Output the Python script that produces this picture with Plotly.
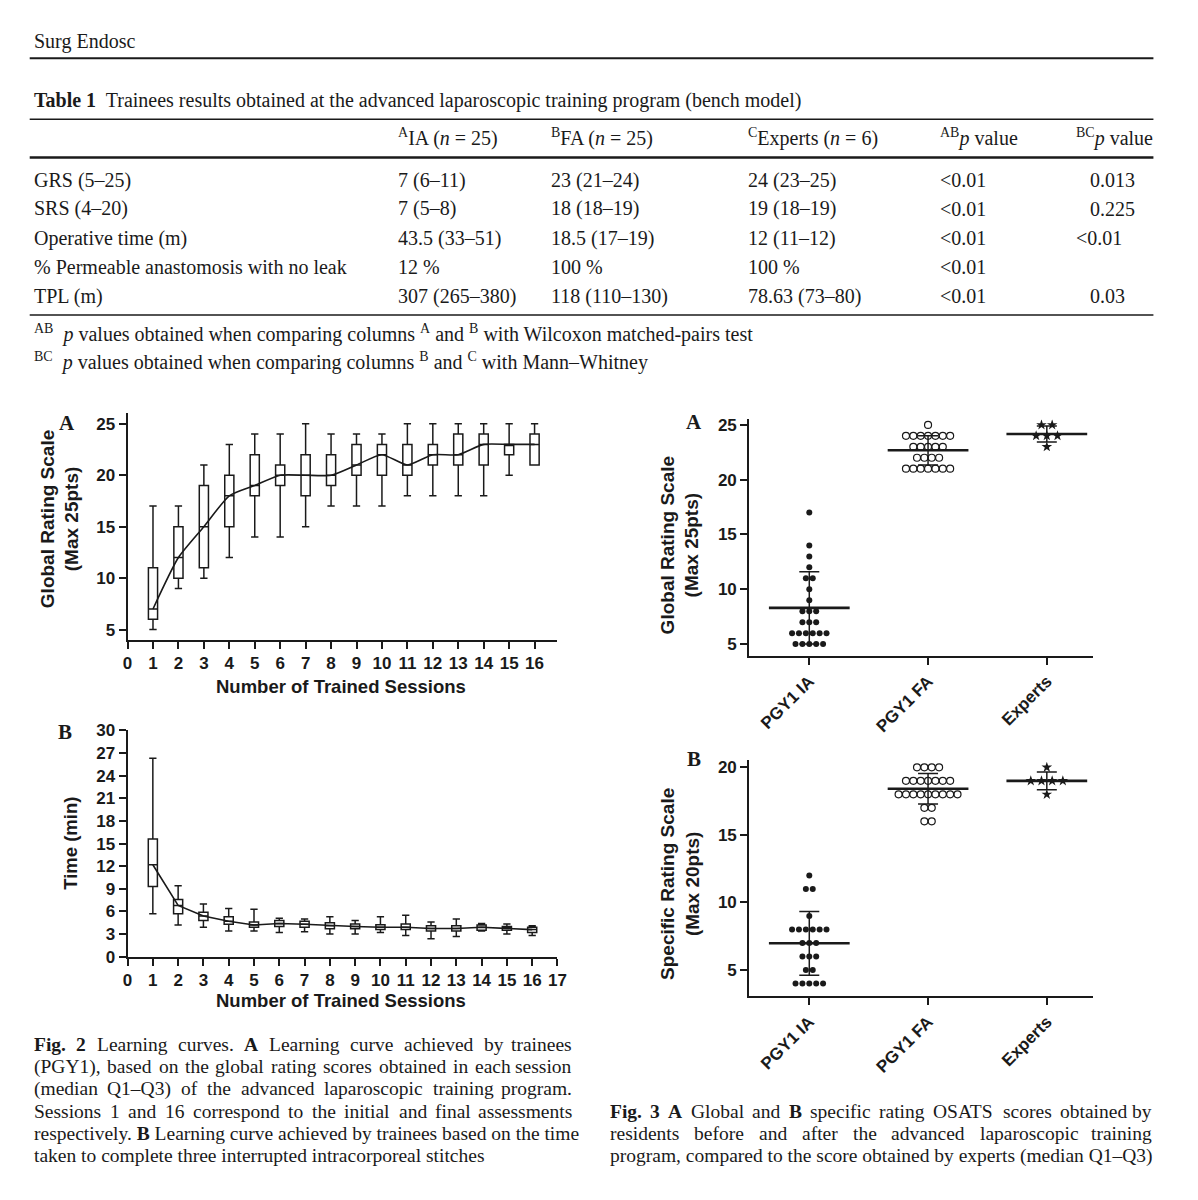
import plotly.graph_objects as go

W, H = 1198, 1200
INK = "#1a1a1a"
SANS = "Liberation Sans, Arial, sans-serif"
SERIF = "Liberation Serif, Times New Roman, serif"

# ---- Table 1 ----
table_cols = ["<sup>A</sup>IA (<i>n</i> = 25)", "<sup>B</sup>FA (<i>n</i> = 25)",
              "<sup>C</sup>Experts (<i>n</i> = 6)", "<sup>AB</sup><i>p</i> value",
              "<sup>BC</sup><i>p</i> value"]
row_labels = ["GRS (5–25)", "SRS (4–20)", "Operative time (m)",
              "% Permeable anastomosis with no leak", "TPL (m)"]
ia_vals = ["7 (6–11)", "7 (5–8)", "43.5 (33–51)", "12 %", "307 (265–380)"]
fa_vals = ["23 (21–24)", "18 (18–19)", "18.5 (17–19)", "100 %", "118 (110–130)"]
exp_vals = ["24 (23–25)", "19 (18–19)", "12 (11–12)", "100 %", "78.63 (73–80)"]
p_ab = ["&lt;0.01", "&lt;0.01", "&lt;0.01", "&lt;0.01", "&lt;0.01"]
p_bc = ["0.013", "0.225", "&lt;0.01", "", "0.03"]

# ---- Fig 2A: global rating per session (box: whisker low, Q1, median, Q3, whisker high) ----
sessions = list(range(1, 17))
grs_low = [5, 9, 10, 12, 14, 14, 15, 17, 17, 17, 18, 18, 18, 18, 20, 21]
grs_q1 = [6, 10, 11, 15, 18, 19, 18, 19, 20, 20, 20, 21, 21, 21, 22, 21]
grs_med = [7, 12, 15, 18, 19, 20, 20, 20, 21, 22, 21, 22, 22, 23, 23, 23]
grs_q3 = [11, 15, 19, 20, 22, 21, 22, 22, 23, 23, 23, 23, 24, 24, 23, 24]
grs_high = [17, 17, 21, 23, 24, 24, 25, 24, 24, 24, 25, 25, 25, 25, 25, 25]

# ---- Fig 2B: time per session (min) ----
time_low = [5.7, 4.2, 3.9, 3.4, 3.4, 3.2, 3.3, 3.0, 3.0, 3.2, 2.8, 2.4, 2.7, 3.4, 3.0, 2.8]
time_q1 = [9.3, 5.7, 4.8, 4.3, 3.9, 4.0, 3.9, 3.7, 3.7, 3.6, 3.6, 3.4, 3.4, 3.5, 3.5, 3.2]
time_med = [12.2, 6.8, 5.4, 4.7, 4.2, 4.4, 4.3, 4.1, 4.0, 3.9, 3.9, 3.75, 3.75, 3.9, 3.8, 3.6]
time_q3 = [15.6, 7.6, 5.9, 5.3, 4.6, 4.8, 4.7, 4.5, 4.35, 4.25, 4.35, 4.1, 4.1, 4.2, 4.0, 3.9]
time_high = [26.3, 9.4, 7.0, 6.4, 6.3, 5.1, 5.0, 5.3, 4.8, 5.3, 5.5, 4.6, 5.0, 4.4, 4.35, 4.1]

# ---- Fig 3: individual scores, mean and SD ----
groups = ["PGY1 IA", "PGY1 FA", "Experts"]
grs_ia = [17, 14, 13, 12, 11, 11, 10, 9, 8, 8, 8, 7, 7, 7,
          6, 6, 6, 6, 6, 6, 5, 5, 5, 5, 5]
grs_fa = [25, 24, 24, 24, 24, 24, 24, 24, 23, 23, 23, 23, 23,
          22, 22, 22, 22, 21, 21, 21, 21, 21, 21, 21]
grs_exp = [25, 25, 24, 24, 24, 23]
grs_mean = [8.3, 22.68, 24.17]
grs_sd = [3.3, 1.33, 0.73]

srs_ia = [12, 11, 11, 9, 8, 8, 8, 8, 8, 8, 7, 7, 7, 6, 6, 6, 5, 5, 4, 4, 4, 4, 4]
srs_fa = [20, 20, 20, 20, 19, 19, 19, 19, 19, 19, 19,
          18, 18, 18, 18, 18, 18, 18, 18, 18, 17, 17, 16, 16]
srs_exp = [20, 19, 19, 19, 19, 18]
srs_mean = [6.97, 18.42, 19.0]
srs_sd = [2.36, 1.13, 0.65]

fig2_caption = [
    "<b>Fig.</b> <b>2</b> Learning curves. <b>A</b> Learning curve achieved by trainees",
    "(PGY1), based on the global rating scores obtained in each session",
    "(median Q1–Q3) of the advanced laparoscopic training program.",
    "Sessions 1 and 16 correspond to the initial and final assessments",
    "respectively. <b>B</b> Learning curve achieved by trainees based on the time",
    "taken to complete three interrupted intracorporeal stitches",
]
fig3_caption = [
    "<b>Fig.</b> <b>3</b>  <b>A</b> Global and <b>B</b> specific rating OSATS scores obtained by",
    "residents before and after the advanced laparoscopic training",
    "program, compared to the score obtained by experts (median Q1–Q3)",
]

# approximate Times advance widths (1/1000 em), used only to justify caption lines
TIMES_W = {" ": 250, ".": 250, ",": 250, ":": 278, ";": 278, "(": 333, ")": 333, "-": 333,
           "–": 500, "%": 833, "f": 333, "r": 333, "i": 278, "j": 278, "l": 278, "t": 278,
           "s": 389, "a": 444, "c": 444, "e": 444, "z": 444, "m": 778, "w": 722,
           "A": 722, "B": 667, "C": 667, "D": 722, "E": 611, "F": 556, "G": 722, "H": 722,
           "I": 333, "K": 722, "L": 611, "M": 889, "N": 722, "O": 722, "P": 556, "Q": 722,
           "R": 667, "S": 556, "T": 611, "U": 722, "V": 722, "W": 944, "Y": 722}


def px(x):
    return x / W


def py(y):
    return 1 - y / H


def swarm(values, center, step):
    xs, ys = [], []
    for v in sorted(set(values), reverse=True):
        k = values.count(v)
        for i in range(k):
            xs.append(center + (i - (k - 1) / 2) * step)
            ys.append(v)
    return xs, ys


def axis(**kw):
    base = dict(showline=True, linecolor=INK, linewidth=2, ticks="outside", ticklen=7,
                tickwidth=2, tickcolor=INK, showgrid=False, zeroline=False,
                tickfont=dict(family=SANS, size=17, color=INK, weight="bold"))
    base.update(kw)
    return base


fig = go.Figure()

# Fig 2A boxes + median curve
fig.add_trace(go.Box(x=sessions, q1=grs_q1, median=grs_med, q3=grs_q3,
                     lowerfence=grs_low, upperfence=grs_high, width=0.36, whiskerwidth=0.8,
                     fillcolor="white", line=dict(color=INK, width=1.5), boxpoints=False,
                     xaxis="x", yaxis="y", showlegend=False, hoverinfo="skip"))
fig.add_trace(go.Scatter(x=sessions, y=grs_med, mode="lines",
                         line=dict(color=INK, width=1.6, shape="spline", smoothing=0.6),
                         xaxis="x", yaxis="y", showlegend=False, hoverinfo="skip"))

# Fig 2B
fig.add_trace(go.Box(x=sessions, q1=time_q1, median=time_med, q3=time_q3,
                     lowerfence=time_low, upperfence=time_high, width=0.36, whiskerwidth=0.8,
                     fillcolor="white", line=dict(color=INK, width=1.5), boxpoints=False,
                     xaxis="x2", yaxis="y2", showlegend=False, hoverinfo="skip"))
fig.add_trace(go.Scatter(x=sessions, y=time_med, mode="lines",
                         line=dict(color=INK, width=1.6),
                         xaxis="x2", yaxis="y2", showlegend=False, hoverinfo="skip"))

# Fig 3A / 3B dot plots with mean +/- SD
marker_styles = [
    dict(symbol="circle", size=6, color=INK),
    dict(symbol="circle-open", size=7, color=INK, line=dict(width=1.2)),
    dict(symbol="star", size=8, color=INK),
]
steps = [0.058, 0.062, 0.09]
for (xa, ya, sets, means, sds) in [("x3", "y3", [grs_ia, grs_fa, grs_exp], grs_mean, grs_sd),
                                   ("x4", "y4", [srs_ia, srs_fa, srs_exp], srs_mean, srs_sd)]:
    for i, vals in enumerate(sets):
        xs, ys = swarm(vals, i, steps[i])
        fig.add_trace(go.Scatter(x=xs, y=ys, mode="markers", marker=marker_styles[i],
                                 xaxis=xa, yaxis=ya, showlegend=False, hoverinfo="skip"))
    fig.add_trace(go.Scatter(
        x=list(range(len(groups))), y=means, mode="markers",
        marker=dict(size=1, color="rgba(0,0,0,0)"),
        error_x=dict(type="data", array=[0.34] * 3, width=0, thickness=2.6, color=INK),
        error_y=dict(type="data", array=sds, width=10, thickness=1.5, color=INK),
        xaxis=xa, yaxis=ya, showlegend=False, hoverinfo="skip"))

fig.update_layout(
    width=W, height=H, margin=dict(l=0, r=0, t=0, b=0),
    paper_bgcolor="white", plot_bgcolor="white", hovermode=False,
    xaxis=axis(domain=[px(124), px(559)], range=[0, 16.9], tickmode="linear", tick0=0, dtick=1,
               anchor="y"),
    yaxis=axis(domain=[py(641), py(410)], range=[4, 26.1], tickvals=[5, 10, 15, 20, 25],
               anchor="x"),
    xaxis2=axis(domain=[px(124), px(559)], range=[0, 17], tickmode="linear", tick0=0, dtick=1,
                anchor="y2"),
    yaxis2=axis(domain=[py(963), py(733)], range=[0, 30], tickmode="linear", tick0=0, dtick=3,
                anchor="x2"),
    xaxis3=axis(domain=[px(753), px(1101)], range=[-0.506, 2.39], tickvals=[0, 1, 2],
                ticktext=groups, tickangle=-45, anchor="y3"),
    yaxis3=axis(domain=[py(657), py(417)], range=[3.95, 25.5], tickvals=[5, 10, 15, 20, 25],
                anchor="x3"),
    xaxis4=axis(domain=[px(753), px(1101)], range=[-0.506, 2.39], tickvals=[0, 1, 2],
                ticktext=groups, tickangle=-45, anchor="y4"),
    yaxis4=axis(domain=[py(1003), py(763)], range=[3.06, 20.55], tickvals=[5, 10, 15, 20],
                anchor="x4"),
)

ann = []


def text(x, y, s, size=20, family=SERIF, anchor="left", angle=0, bold=False):
    if bold:
        s = "<b>" + s.replace("<br>", "</b><br><b>") + "</b>"
    ann.append(dict(x=px(x), y=py(y), xref="paper", yref="paper", text=s, showarrow=False,
                    xanchor=anchor, yanchor="middle", textangle=angle, borderpad=0,
                    font=dict(family=family, size=size, color=INK)))


def word_width(word, size):
    plain = word.replace("<b>", "").replace("</b>", "")
    k = 1.06 if "<b>" in word else 1.015
    return sum(TIMES_W.get(ch, 500) for ch in plain) / 1000 * size * k


def caption(lines, x0, x1, y0, size=19.5, lead=22.6):
    for i, line in enumerate(lines):
        y = y0 + lead * i
        words = line.split()
        widths = [word_width(w, size) for w in words]
        gap = (x1 - x0 - sum(widths)) / (len(words) - 1)
        # last line, or a line that is already full: plain text with normal spaces
        if i == len(lines) - 1 or gap < 0.25 * size:
            text(x0, y, line.replace("</b> <b>", " "), size=size)
            continue
        x = x0
        for j, (w, wd) in enumerate(zip(words, widths)):
            if j == len(words) - 1:
                text(x1, y, w, size=size, anchor="right")
            else:
                text(x, y, w, size=size)
            x += wd + gap


# page header + table
text(28, 33, "Surg Endosc")
text(28, 93, "<b>Table 1</b>  Trainees results obtained at the advanced laparoscopic "
             "training program (bench model)")
col_x = [397, 551, 751, 945, 1083]
for cx, label in zip(col_x, table_cols):
    text(cx, 131, label)
row_y = [174, 203, 233, 262, 292]
for i, ry in enumerate(row_y):
    text(28, ry, row_labels[i])
    text(397, ry, ia_vals[i])
    text(551, ry, fa_vals[i])
    text(751, ry, exp_vals[i])
    text(945, ry, p_ab[i])
    if p_bc[i]:
        text(1083 if p_bc[i].startswith("&lt;") else 1097, ry, p_bc[i])
text(28, 330, "<sup>AB</sup>  <i>p</i> values obtained when comparing columns <sup>A</sup> and "
              "<sup>B</sup> with Wilcoxon matched-pairs test")
text(28, 358, "<sup>BC</sup>  <i>p</i> values obtained when comparing columns <sup>B</sup> and "
              "<sup>C</sup> with Mann–Whitney")

# panel letters
for lx, ly, letter in [(63, 421, "A"), (61, 735, "B"), (697, 420, "A"), (697, 762, "B")]:
    text(lx, ly, letter, size=21, anchor="center", bold=True)

# axis titles
text(55, 518, "Global Rating Scale<br>(Max 25pts)", size=19, family=SANS, anchor="center",
     angle=-90, bold=True)
text(66, 848, "Time (min)", size=18.5, family=SANS, anchor="center", angle=-90, bold=True)
text(340, 688, "Number of Trained Sessions", size=18.5, family=SANS, anchor="center", bold=True)
text(340, 1007, "Number of Trained Sessions", size=18.5, family=SANS, anchor="center", bold=True)
text(683, 545, "Global Rating Scale<br>(Max 25pts)", size=19, family=SANS, anchor="center",
     angle=-90, bold=True)
text(683, 889, "Specific Rating Scale<br>(Max 20pts)", size=19, family=SANS, anchor="center",
     angle=-90, bold=True)

# justified captions
caption(fig2_caption, 28, 575, 1052)
caption(fig3_caption, 611, 1162, 1120)

fig.update_layout(annotations=ann)

# rules of the table
for y0, w in [(50, 2), (112, 1.5), (151, 2.5), (311, 1.5)]:
    fig.add_shape(type="line", xref="paper", yref="paper", x0=px(25), x1=px(1162),
                  y0=py(y0), y1=py(y0), line=dict(color=INK, width=w))

# the page gets no body margin, so the 1198x1200 figure fills the window exactly
fig.write_html("out.html", config={"displayModeBar": False},
               post_script="document.body.style.margin='0';"
                           "document.documentElement.style.overflow='hidden';")
